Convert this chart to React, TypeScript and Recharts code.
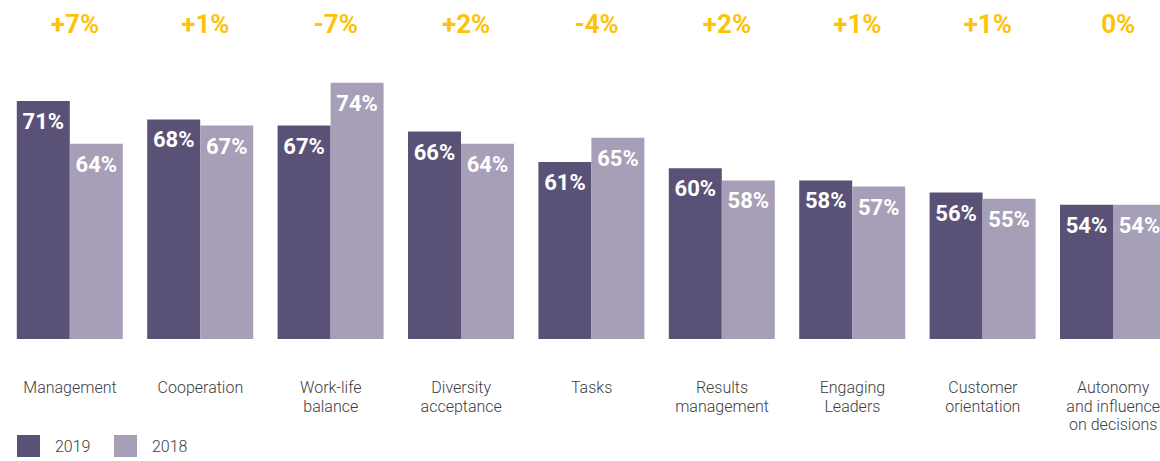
import React from 'react';
import { BarChart, Bar, XAxis, YAxis, Legend, LabelList } from 'recharts';

const categories = [
  'Management',
  'Cooperation',
  'Work-life\nbalance',
  'Diversity\nacceptance',
  'Tasks',
  'Results\nmanagement',
  'Engaging\nLeaders',
  'Customer\norientation',
  'Autonomy\nand influence\non decisions',
];
const values2019 = [71, 68, 67, 66, 61, 60, 58, 56, 54];
const values2018 = [64, 67, 74, 64, 65, 58, 57, 55, 54];
const seriesNames = ['2019', '2018'];

const COLOR_2019 = '#5a5276';
const COLOR_2018 = '#a79fb8';
const COLOR_DELTA = '#fcc30b';
const TEXT_COLOR = '#3d3d3d';
const FONT = 'Roboto, "Liberation Sans", Arial, sans-serif';

const data = categories.map((name, i) => ({
  name,
  y2019: values2019[i],
  y2018: values2018[i],
}));

const deltaLabel = (i: number) => {
  const d = values2019[i] - values2018[i];
  return (d > 0 ? '+' : d < 0 ? '-' : '') + Math.abs(d) + '%';
};

const DeltaTick = (props: any) => {
  const { x, y, payload } = props;
  const idx = props.index ?? categories.indexOf(payload?.value);
  return (
    <text
      x={Number(x) + 5}
      y={Number(y)}
      textAnchor="middle"
      fill={COLOR_DELTA}
      fontSize={26}
      fontWeight={700}
      fontFamily={FONT}
    >
      {deltaLabel(idx)}
    </text>
  );
};

const CategoryTick = (props: any) => {
  const { x, y, payload } = props;
  const lines = String(payload?.value ?? '').split('\n');
  return (
    <text
      x={Number(x)}
      y={Number(y) + 54}
      textAnchor="middle"
      fill={TEXT_COLOR}
      fontSize={16}
      fontWeight={300}
      fontFamily={FONT}
    >
      {lines.map((l, i) => (
        <tspan key={i} x={Number(x)} dy={i === 0 ? 0 : 18.5}>
          {l}
        </tspan>
      ))}
    </text>
  );
};

const renderValueLabel = (props: any) => {
  const { x, y, width, value } = props;
  return (
    <text
      x={Number(x) + Number(width) / 2}
      y={Number(y) + 28}
      textAnchor="middle"
      fill="#ffffff"
      fontSize={22}
      fontWeight={700}
      fontFamily={FONT}
    >
      {value}%
    </text>
  );
};

const LegendContent = (props: any) => {
  const payload = [...(props.payload || [])].sort(
    (a: any, b: any) => seriesNames.indexOf(String(a.value)) - seriesNames.indexOf(String(b.value))
  );
  return (
    <div
      style={{
        display: 'flex',
        alignItems: 'center',
        height: 30,
        paddingLeft: 12.2,
        fontFamily: FONT,
        fontSize: 16,
        fontWeight: 300,
        color: TEXT_COLOR,
      }}
    >
      {payload.map((p: any, i: number) => (
        <div
          key={i}
          style={{ display: 'flex', alignItems: 'center', width: i === 0 ? 97 : 'auto' }}
        >
          <div style={{ width: 23, height: 22, background: p.color, marginRight: 15 }} />
          <span>{p.value}</span>
        </div>
      ))}
    </div>
  );
};

export default function App() {
  return (
    <div
      style={{
        position: 'absolute',
        left: 0,
        top: 0,
        width: 1160,
        height: 461,
        overflow: 'hidden',
        background: '#ffffff',
      }}
    >
      <BarChart
        width={1180}
        height={461}
        data={data}
        margin={{ top: 0, right: 1.6, left: 4.8, bottom: 0 }}
        barGap={0}
        barSize={53}
      >
        <XAxis
          xAxisId="top"
          orientation="top"
          dataKey="name"
          height={58.4}
          axisLine={false}
          tickLine={false}
          tickSize={0}
          tickMargin={25}
          interval={0}
          tick={<DeltaTick />}
        />
        <XAxis
          xAxisId="bottom"
          orientation="bottom"
          dataKey="name"
          height={92}
          axisLine={false}
          tickLine={false}
          tickSize={0}
          tickMargin={0}
          interval={0}
          tick={<CategoryTick />}
        />
        <YAxis hide domain={[32, 78]} allowDataOverflow />
        <Legend verticalAlign="bottom" align="left" content={<LegendContent />} />
        <Bar
          dataKey="y2019"
          name={seriesNames[0]}
          xAxisId="bottom"
          fill={COLOR_2019}
          isAnimationActive={false}
        >
          <LabelList dataKey="y2019" content={renderValueLabel} />
        </Bar>
        <Bar
          dataKey="y2018"
          name={seriesNames[1]}
          xAxisId="bottom"
          fill={COLOR_2018}
          isAnimationActive={false}
        >
          <LabelList dataKey="y2018" content={renderValueLabel} />
        </Bar>
      </BarChart>
    </div>
  );
}
